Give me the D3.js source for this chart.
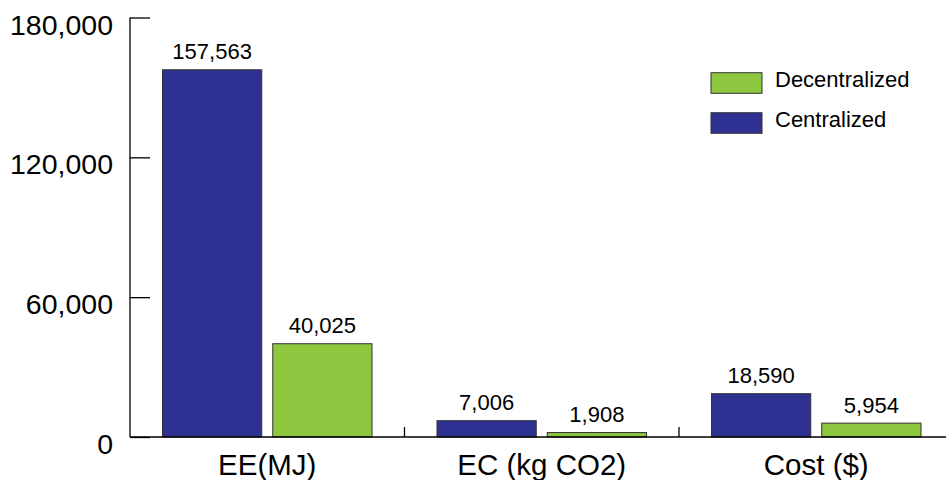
<!DOCTYPE html>
<html><head><meta charset="utf-8">
<script src="https://cdn.jsdelivr.net/npm/d3@7"></script>
<style>body{margin:0;background:#fff}svg{display:block;font-family:"Liberation Sans",Arial,sans-serif}</style>
</head><body><svg id="c" width="946" height="480"></svg>
<script>
const categories = ["EE(MJ)", "EC (kg CO2)", "Cost ($)"];
const series = ["Centralized", "Decentralized"];
const centralized = [157563, 7006, 18590];
const decentralized = [40025, 1908, 5954];
const yTicks = [0, 60000, 120000, 180000];
const colors = {Centralized: "#2E3192", Decentralized: "#8DC63F"};
const legendOrder = ["Decentralized", "Centralized"];

const svg = d3.select("#c");
const y = d3.scaleLinear().domain([0, 180000]).range([437, 17.5]);
const x0 = d3.scaleBand().domain(categories).range([130, 130 + 3 * 274.5]).padding(0);
const x1 = d3.scaleBand().domain(series).range([32.5, 274.5 - 32.5]).paddingInner(0.1).paddingOuter(0);
const fmt = d3.format(",");

const data = categories.map((c, i) => ({cat: c, vals: [
  {s: "Centralized", v: centralized[i]},
  {s: "Decentralized", v: decentralized[i]}
]}));

// y axis
const ya = svg.append("g").attr("transform", "translate(130,0)")
  .call(d3.axisRight(y).tickValues(yTicks).tickSize(20).tickFormat(""));
ya.select(".domain").remove();
ya.selectAll("line").attr("stroke", "#000").attr("stroke-width", 1.3);
svg.append("line").attr("x1", 130).attr("x2", 130).attr("y1", y(180000)).attr("y2", y(0))
  .attr("stroke", "#000").attr("stroke-width", 1.3);
svg.append("g").selectAll("text").data(yTicks).join("text")
  .attr("x", 113).attr("y", d => y(d) + 17).attr("text-anchor", "end")
  .attr("font-size", 28.5).attr("fill", "#000").text(d => fmt(d));

// bars
const g = svg.append("g").selectAll("g").data(data).join("g")
  .attr("transform", d => `translate(${x0(d.cat)},0)`);
g.selectAll("rect").data(d => d.vals).join("rect")
  .attr("x", d => x1(d.s)).attr("width", x1.bandwidth())
  .attr("y", d => y(d.v)).attr("height", d => y(0) - y(d.v))
  .attr("fill", d => colors[d.s]).attr("stroke", "#333").attr("stroke-width", 1);
g.selectAll("text").data(d => d.vals).join("text")
  .attr("x", d => x1(d.s) + x1.bandwidth() / 2).attr("y", d => y(d.v) - 10.5)
  .attr("text-anchor", "middle").attr("font-size", 22).attr("fill", "#000")
  .text(d => fmt(d.v));

// x axis
svg.append("line").attr("x1", 130).attr("x2", 946).attr("y1", y(0)).attr("y2", y(0))
  .attr("stroke", "#000").attr("stroke-width", 1.3);
svg.append("g").selectAll("line").data(categories.slice(1)).join("line")
  .attr("x1", d => x0(d)).attr("x2", d => x0(d)).attr("y1", y(0)).attr("y2", y(0) - 10)
  .attr("stroke", "#000").attr("stroke-width", 1.3);
svg.append("g").selectAll("text").data(categories).join("text")
  .attr("x", d => x0(d) + x0.bandwidth() / 2).attr("y", 475)
  .attr("text-anchor", "middle").attr("font-size", 29.5).attr("fill", "#000").text(d => d);

// legend
const lg = svg.append("g").selectAll("g").data(legendOrder).join("g")
  .attr("transform", (d, i) => `translate(711,${72.7 + i * 40})`);
lg.append("rect").attr("width", 51).attr("height", 20.6)
  .attr("fill", d => colors[d]).attr("stroke", "#333").attr("stroke-width", 1);
lg.append("text").attr("x", 64).attr("y", 14.5).attr("font-size", 22).attr("fill", "#000").text(d => d);
</script></body></html>
